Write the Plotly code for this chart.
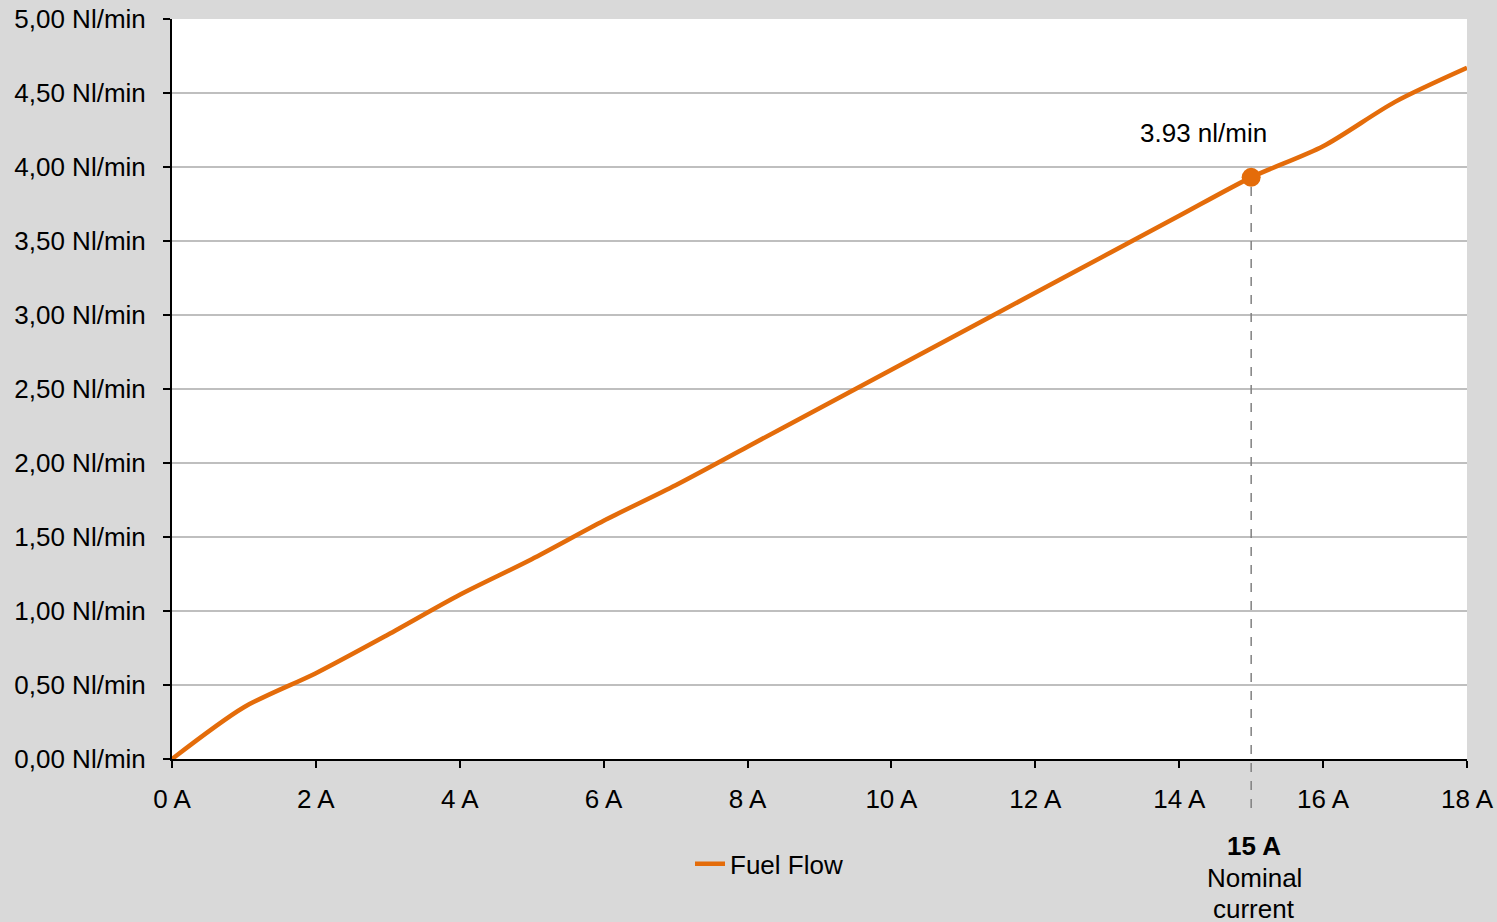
import plotly.graph_objects as go

current_a = [0, 1, 2, 3, 4, 5, 6, 7, 8, 9, 10, 11, 12, 13, 14, 15, 16, 17, 18]
fuel_flow = [0.0, 0.35, 0.58, 0.84, 1.11, 1.35, 1.61, 1.85, 2.11, 2.37, 2.63,
             2.89, 3.15, 3.41, 3.67, 3.93, 4.14, 4.44, 4.67]

nominal_current = 15
nominal_flow = 3.93
nominal_lines = [f"<b>{nominal_current} A</b>", "Nominal", "current"]

x_tickvals = [0, 2, 4, 6, 8, 10, 12, 14, 16, 18]
x_ticktext = ["0 A", "2 A", "4 A", "6 A", "8 A", "10 A", "12 A", "14 A", "16 A", "18 A"]
y_tickvals = [0, 0.5, 1, 1.5, 2, 2.5, 3, 3.5, 4, 4.5, 5]
y_ticktext = ["0,00 Nl/min", "0,50 Nl/min", "1,00 Nl/min", "1,50 Nl/min", "2,00 Nl/min",
              "2,50 Nl/min", "3,00 Nl/min", "3,50 Nl/min", "4,00 Nl/min", "4,50 Nl/min",
              "5,00 Nl/min"]

Y_MAX = 5
ORANGE = "#E46C0A"
FONT = "Liberation Sans, Arial, sans-serif"
FS = 26

fig = go.Figure()
fig.add_trace(go.Scatter(
    x=current_a, y=fuel_flow, mode="lines", name="Fuel Flow",
    line=dict(color=ORANGE, width=4.5, shape="spline", smoothing=0.8),
    hoverinfo="skip",
))
fig.add_trace(go.Scatter(
    x=[nominal_current], y=[nominal_flow], mode="markers",
    marker=dict(color=ORANGE, size=19), showlegend=False, hoverinfo="skip",
))

# dashed drop line from the nominal point down into the tick-label area
fig.add_shape(
    type="line", xref="x", yref="paper",
    x0=nominal_current, x1=nominal_current,
    y0=nominal_flow / Y_MAX - 0.013, y1=-0.073,
    line=dict(color="#808080", width=1.5, dash="dash"), layer="above",
)

fig.add_annotation(
    x=nominal_current, y=nominal_flow, xref="x", yref="y",
    text=f"{nominal_flow:.2f} nl/min", showarrow=False,
    xshift=-48, yshift=44, font=dict(family=FONT, size=FS, color="#000000"),
)
for i, line in enumerate(nominal_lines):
    fig.add_annotation(
        x=nominal_current, y=0, xref="x", yref="y",
        text=line, showarrow=False, yanchor="middle",
        yshift=-87 - 31.5 * i, xshift=3,
        font=dict(family=FONT, size=FS, color="#000000"),
    )

fig.update_layout(
    width=1497, height=922,
    paper_bgcolor="#d9d9d9", plot_bgcolor="#ffffff",
    margin=dict(l=172, r=30, t=19, b=163, autoexpand=False),
    font=dict(family=FONT, size=FS, color="#000000"),
    showlegend=True,
    legend=dict(orientation="h", x=0.4, xanchor="left", y=-0.11, yanchor="top",
                bgcolor="rgba(0,0,0,0)", font=dict(size=FS, family=FONT)),
)
fig.update_xaxes(
    range=[0, 18], tickvals=x_tickvals, ticktext=x_ticktext,
    showline=True, linecolor="#000000", linewidth=2,
    ticks="outside", ticklen=7, tickwidth=2, tickcolor="#000000",
    showgrid=False, zeroline=False, ticklabelstandoff=9, automargin=False,
    tickfont=dict(family=FONT, size=FS),
)
fig.update_yaxes(
    range=[0, Y_MAX], tickvals=y_tickvals, ticktext=y_ticktext,
    showline=True, linecolor="#000000", linewidth=2,
    ticks="outside", ticklen=7, tickwidth=2, tickcolor="#000000",
    showgrid=True, gridcolor="#bfbfbf", gridwidth=2, zeroline=False,
    ticklabelstandoff=12, automargin=False,
    tickfont=dict(family=FONT, size=FS),
)

fig.write_html("out.html", config={"displayModeBar": False},
               post_script="document.body.style.margin='0';")
